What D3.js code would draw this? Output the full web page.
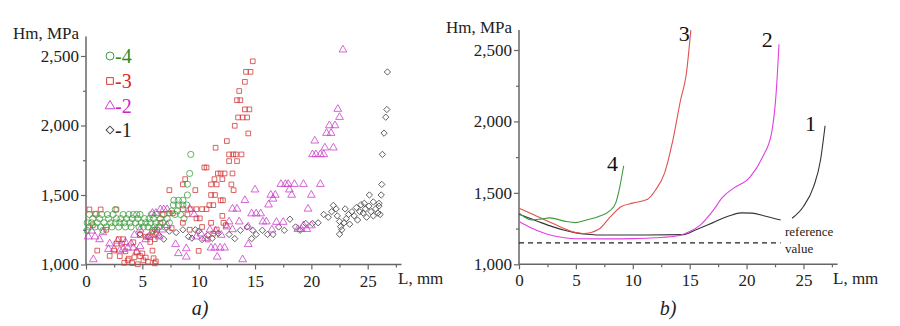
<!DOCTYPE html>
<html><head><meta charset="utf-8">
<script src="https://cdn.jsdelivr.net/npm/d3@7/dist/d3.min.js"></script>
<style>
html,body{margin:0;padding:0;background:#fff;}
svg text{font-family:"Liberation Serif","Tinos","DejaVu Serif","Noto Serif",serif !important;}
</style></head>
<body><svg id="c" width="900" height="326"></svg>
<script>
// ---------- DATA ----------
const yTicks = [1000, 1500, 2000, 2500];
const yMinor = [1250, 1750, 2250];
const xTicks = [0, 5, 10, 15, 20, 25];
const xMinor = [2.5, 7.5, 12.5, 17.5, 22.5, 27.5];
const legendLabels = ["-4", "-3", "-2", "-1"];

// panel a) scatter: [L, Hm]
const pts4 = [
 [0.3,1360],[0.9,1360],[1.4,1360],[1.9,1360],[2.4,1360],[3.3,1360],[3.8,1360],[4.2,1360],[4.5,1360],[4.8,1360],[5.8,1360],[6.3,1360],[6.9,1360],
 [0.6,1330],[1.2,1330],[2.0,1330],[2.7,1330],[3.1,1330],[3.6,1330],[4.1,1330],[4.6,1330],[5.2,1330],[5.6,1330],[6.0,1330],[6.6,1330],[7.2,1330],
 [0.1,1300],[0.5,1300],[1.0,1300],[1.6,1300],[2.2,1300],[2.6,1300],[3.0,1300],[3.4,1300],[3.9,1300],[4.4,1300],[4.9,1300],[5.3,1300],[5.7,1300],[6.2,1300],[6.8,1300],[7.4,1300],
 [0.3,1270],[0.8,1270],[1.3,1270],[1.8,1270],[2.3,1270],[2.9,1270],[3.5,1270],[4.0,1270],[4.7,1270],[5.1,1270],[5.5,1270],[6.1,1270],[6.5,1270],[7.0,1270],
 [2.6,1395],[7.6,1385],[8.1,1385],[7.9,1360],[8.4,1360],[8.7,1330],[7.75,1428],[8.2,1428],[8.6,1428],[8.95,1428],
 [7.8,1462],[8.2,1462],[8.6,1462],[9.0,1500],[9.0,1578],[9.2,1655],[9.3,1792],[0.1,1245],[1.5,1245],[5.9,1245]
];
const pts3 = [
 [14.8,2462],[14.2,2386],[14.6,2386],[14.1,2314],[13.6,2248],[13.4,2182],[13.7,2182],[14.1,2116],[14.5,2116],
 [13.5,2058],[13.9,2058],[14.3,2058],[13.2,1998],[14.4,1943],[12.5,1888],[11.5,1840],
 [12.7,1792],[13.05,1792],[13.3,1792],[13.8,1792],[12.7,1744],[13.4,1744],[10.5,1698],[10.7,1698],
 [11.7,1655],[11.95,1655],[12.3,1655],[13.0,1655],[11.4,1614],[12.1,1614],[8.8,1614],
 [11.1,1576],[11.6,1576],[12.9,1576],[8.6,1576],[13.1,1535],[7.4,1535],[9.7,1535],
 [11.1,1500],[11.45,1500],[11.95,1462],[12.15,1462],[10.95,1427],[11.3,1427],
 [10.7,1398],[8.6,1398],[9.3,1398],[9.8,1398],[10.3,1398],[7.4,1368],[7.7,1368],
 [9.8,1332],[10.1,1332],[11.1,1300],[12.2,1300],[8.6,1300],[10.3,1270],[9.2,1250],[7.6,1262],
 [12.4,1282],[10.0,1098],[10.8,1180],[11.3,1222],[11.6,1252],[12.1,1350],[9.0,1360],
 [0.3,1396],[1.3,1396],[2.7,1396],[0.8,1365],[0.6,1282],[1.8,1250],[2.9,1182],[3.3,1182],
 [2.7,1150],[3.2,1150],[4.2,1160],[5.7,1162],[6.1,1182],[1.0,1100],[2.5,1100],[3.5,1095],
 [4.5,1088],[5.0,1080],[5.9,1100],[2.1,1062],[3.0,1060],[3.8,1042],[4.3,1052],[4.8,1060],
 [5.3,1050],[6.0,1045],[6.2,1022],[3.4,1012],[3.7,1030],[4.1,1010],[4.6,1002],[5.1,1030],
 [5.5,1020],[6.1,1008],[6.3,1250],[6.6,1300],[6.8,1360],[5.3,1200],[4.8,1212],[5.9,1232]
];
const pts2 = [
 [22.8,2545],[22.35,2118],[22.5,2060],[21.6,2000],[22.1,2000],[21.35,1945],[21.75,1945],[20.3,1890],
 [21.2,1840],[21.95,1840],[20.1,1792],[20.4,1792],[20.8,1792],[21.1,1792],
 [17.3,1578],[17.7,1578],[17.95,1578],[18.5,1578],[19.3,1578],[20.8,1578],[18.05,1538],[15.0,1538],
 [16.4,1500],[16.8,1500],[18.25,1500],[20.0,1500],[16.6,1472],[16.2,1430],[14.1,1462],
 [13.0,1400],[13.4,1400],[19.7,1400],[14.7,1366],[15.1,1366],[15.5,1366],[15.7,1308],[16.0,1308],
 [12.7,1308],[13.6,1308],[16.9,1305],[17.5,1305],[18.8,1254],[19.1,1254],[19.6,1254],[19.3,1280],[20.0,1280],
 [14.4,1272],[12.5,1272],[11.1,1120],[11.45,1120],[11.9,1120],[12.3,1120],[11.65,1055],[13.9,1036],
 [14.4,1145],[7.95,1145],[8.9,1115],[8.2,1080],[8.9,1055],[9.8,1200],[10.2,1222],[10.6,1190],
 [11.0,1250],[11.5,1240],[12.0,1212],[13.0,1252],[16.5,1250],
 [0.65,1036],[0.2,1200],[0.8,1200],[1.2,1180],[1.5,1230],[0.5,1242],[2.0,1110],[2.5,1110],
 [3.0,1100],[3.3,1110],[3.7,1120],[4.2,1120],[4.5,1092],[2.1,1150],[2.8,1170],[3.5,1160],
 [4.0,1150],[4.8,1130],[5.3,1180],[5.6,1200],[5.9,1212],[6.2,1222],[6.5,1200],[6.8,1250],
 [7.2,1282],[5.9,1370],[6.2,1370],[6.6,1396],[6.9,1396],[7.2,1396],[9.2,1400],[9.6,1360],[4.8,1250],[4.3,1212]
];
const pts1 = [
 [26.75,2385],[26.7,2115],[26.6,2060],[26.45,1945],[26.3,1792],[26.25,1576],[26.2,1500],[25.15,1500],[25.5,1450],[26.0,1440],
 [21.1,1360],[21.5,1340],[21.8,1380],[21.95,1425],[22.2,1400],[22.3,1350],[22.5,1310],[22.6,1272],[22.5,1218],
 [22.7,1250],[22.9,1300],[23.1,1330],[23.3,1360],[23.4,1290],[23.6,1380],[23.8,1350],[24.0,1410],[24.1,1320],
 [24.3,1380],[24.4,1430],[24.6,1370],[24.8,1400],[24.9,1340],[25.1,1420],[25.3,1380],[25.5,1350],[25.7,1400],
 [25.9,1370],[26.0,1420],[26.1,1360],[24.7,1440],[23.0,1400],
 [7.4,1240],[8.0,1230],[8.6,1250],[9.1,1200],[9.7,1250],[10.3,1180],[10.8,1210],[11.2,1188],[11.75,1224],
 [12.7,1216],[13.2,1186],[13.7,1246],[14.3,1270],[14.8,1246],[14.7,1186],[15.1,1216],[15.65,1246],[16.1,1216],
 [16.6,1216],[17.1,1270],[17.6,1246],[18.1,1326],[18.6,1270],[19.0,1246],[19.5,1295],[20.1,1295],[20.6,1300],
 [4.8,1220],[5.5,1200],[6.1,1250],[6.5,1210],[6.9,1182],[10.0,1240],[9.4,1190]
];

// panel b) fitted curves: [L, Hm]
const curve4 = [[0,1360],[0.5,1330],[1.1,1310],[2.0,1318],[2.7,1325],[4.0,1302],[5.0,1292],[6.0,1312],[7.0,1335],[8.0,1375],[8.5,1430],[8.8,1520],[9.2,1690]];
const curve3 = [[0,1392],[1,1357],[3,1285],[5,1222],[5.7,1215],[7,1245],[8,1330],[9,1405],[10,1428],[11.3,1455],[12,1520],[12.8,1640],[13.5,1860],[14.2,2150],[14.7,2330],[15.1,2640]];
const curve2 = [[0,1300],[1,1258],[2,1224],[3,1200],[4,1186],[5,1179],[8,1178],[10,1180],[12,1186],[14,1200],[15,1230],[16,1280],[17,1370],[17.9,1470],[18.8,1530],[20.3,1610],[21.4,1750],[22.2,1920],[22.6,2200],[22.85,2540]];
const curve1a = [[0,1350],[1,1320],[2,1290],[3,1262],[4,1238],[5,1220],[6,1210],[7,1205],[10,1205],[14.5,1208],[15.5,1240],[17,1290],[18.5,1340],[19.5,1360],[20.5,1358],[21.5,1340],[23,1310]];
const curve1b = [[24,1322],[25,1405],[25.9,1545],[26.5,1730],[26.9,1970]];
const referenceValue = 1150;
const curveLabels = [["3",15.0,2560],["2",22.3,2520],["1",26.1,1930],["4",8.7,1650]];

// ---------- DRAW ----------
const svg = d3.select("#c");
const fmt = d3.format(",");
const C4 = "#3f9f3f", C3 = "#d63a3a", C2 = "#cc3fcc", C1 = "#444";

function axes(g, x, y, yTop) {
  const axisColor = "#666";
  g.append("line").attr("x1", x(0)).attr("x2", x(0)).attr("y1", y(1000)).attr("y2", y(yTop))
    .attr("stroke", axisColor).attr("stroke-width", 1.5);
  g.append("line").attr("x1", x(0)).attr("x2", x(28)).attr("y1", y(1000)).attr("y2", y(1000))
    .attr("stroke", axisColor).attr("stroke-width", 1.5);
  const ya = g.append("g").attr("transform", `translate(${x(0)},0)`)
    .call(d3.axisLeft(y).tickValues(yTicks).tickFormat(fmt).tickSize(5).tickPadding(2));
  const ym = g.append("g").attr("transform", `translate(${x(0)},0)`)
    .call(d3.axisLeft(y).tickValues(yMinor).tickFormat("").tickSize(3));
  const xa = g.append("g").attr("transform", `translate(0,${y(1000)})`)
    .call(d3.axisBottom(x).tickValues(xTicks).tickSize(5).tickPadding(5));
  const xm = g.append("g").attr("transform", `translate(0,${y(1000)})`)
    .call(d3.axisBottom(x).tickValues(xMinor).tickFormat("").tickSize(3));
  [ya, ym, xa, xm].forEach(a => {
    a.attr("font-family", null);
    a.select(".domain").remove();
    a.selectAll("line").attr("stroke", axisColor).attr("stroke-width", 1.2);
    a.selectAll("text").attr("font-size", 17).attr("fill", "#222");
  });
}

// ----- panel a -----
const xa = d3.scaleLinear().domain([0, 28]).range([86, 401.5]);
const ya = d3.scaleLinear().domain([1000, 2500]).range([264.5, 56]);
const ga = svg.append("g");
axes(ga, xa, ya, 2640);

function drawPts(data, type, size, color, rot) {
  ga.append("g").selectAll("path").data(data).join("path")
    .attr("d", d3.symbol().type(type).size(size)())
    .attr("transform", d => `translate(${xa(d[0])},${ya(d[1])})` + (rot ? " rotate(45)" : ""))
    .attr("fill", "none").attr("stroke", color).attr("stroke-width", 0.8);
}
drawPts(pts1, d3.symbolSquare, 20, C1, true);
drawPts(pts2, d3.symbolTriangle, 26, C2, false);
drawPts(pts3, d3.symbolSquare, 22, C3, false);
drawPts(pts4, d3.symbolCircle, 30, C4, false);

ga.append("text").attr("x", 13).attr("y", 39).attr("font-size", 17).attr("fill", "#222").text("Hm, MPa");
ga.append("text").attr("x", 398).attr("y", 284).attr("font-size", 17).attr("fill", "#222").text("L, mm");
ga.append("text").attr("x", 200).attr("y", 315).attr("font-size", 20).attr("font-style", "italic")
  .attr("text-anchor", "middle").attr("fill", "#222").text("a)");

// legend
const legTypes = [[d3.symbolCircle, 50, C4, false, "#2a8a2a"], [d3.symbolSquare, 45, C3, false, "#e02424"],
                  [d3.symbolTriangle, 40, C2, false, "#cc22cc"], [d3.symbolSquare, 30, C1, true, "#222"]];
const legY = [56, 81, 106, 130];
legendLabels.forEach((lab, i) => {
  const [t, s, c, rot, tc] = legTypes[i];
  ga.append("path").attr("d", d3.symbol().type(t).size(s)())
    .attr("transform", `translate(110,${legY[i]})` + (rot ? " rotate(45)" : ""))
    .attr("fill", "none").attr("stroke", c).attr("stroke-width", 1);
  ga.append("text").attr("x", 115).attr("y", legY[i] + 7).attr("font-size", 20).attr("fill", tc).text(lab);
});

// ----- panel b -----
const xb = d3.scaleLinear().domain([0, 28]).range([519, 837.6]);
const yb = d3.scaleLinear().domain([1000, 2500]).range([264.3, 50]);
const gb = svg.append("g");
axes(gb, xb, yb, 2640);

const line = d3.line().x(d => xb(d[0])).y(d => yb(d[1])).curve(d3.curveMonotoneX);
[[curve1a, "#333"], [curve1b, "#333"], [curve2, "#e040e0"], [curve3, "#e05050"], [curve4, "#3c9a3c"]].forEach(([d, c]) => {
  gb.append("path").datum(d).attr("d", line).attr("fill", "none").attr("stroke", c).attr("stroke-width", 1.1);
});
gb.append("line").attr("x1", xb(0)).attr("x2", xb(23)).attr("y1", yb(referenceValue)).attr("y2", yb(referenceValue))
  .attr("stroke", "#222").attr("stroke-width", 1.2).attr("stroke-dasharray", "5,4");

curveLabels.forEach(([t, L, H]) => {
  gb.append("text").attr("x", xb(L)).attr("y", yb(H)).attr("font-size", 22).attr("text-anchor", "end")
    .attr("fill", "#111").text(t);
});
gb.append("text").attr("x", 785).attr("y", 236).attr("font-size", 13).attr("fill", "#222").text("reference");
gb.append("text").attr("x", 785).attr("y", 253).attr("font-size", 13).attr("fill", "#222").text("value");
gb.append("text").attr("x", 512).attr("y", 33).attr("font-size", 17).attr("text-anchor", "end").attr("fill", "#222").text("Hm, MPa");
gb.append("text").attr("x", 833).attr("y", 284).attr("font-size", 17).attr("fill", "#222").text("L, mm");
gb.append("text").attr("x", 668).attr("y", 315).attr("font-size", 20).attr("font-style", "italic")
  .attr("text-anchor", "middle").attr("fill", "#222").text("b)");
</script></body></html>
